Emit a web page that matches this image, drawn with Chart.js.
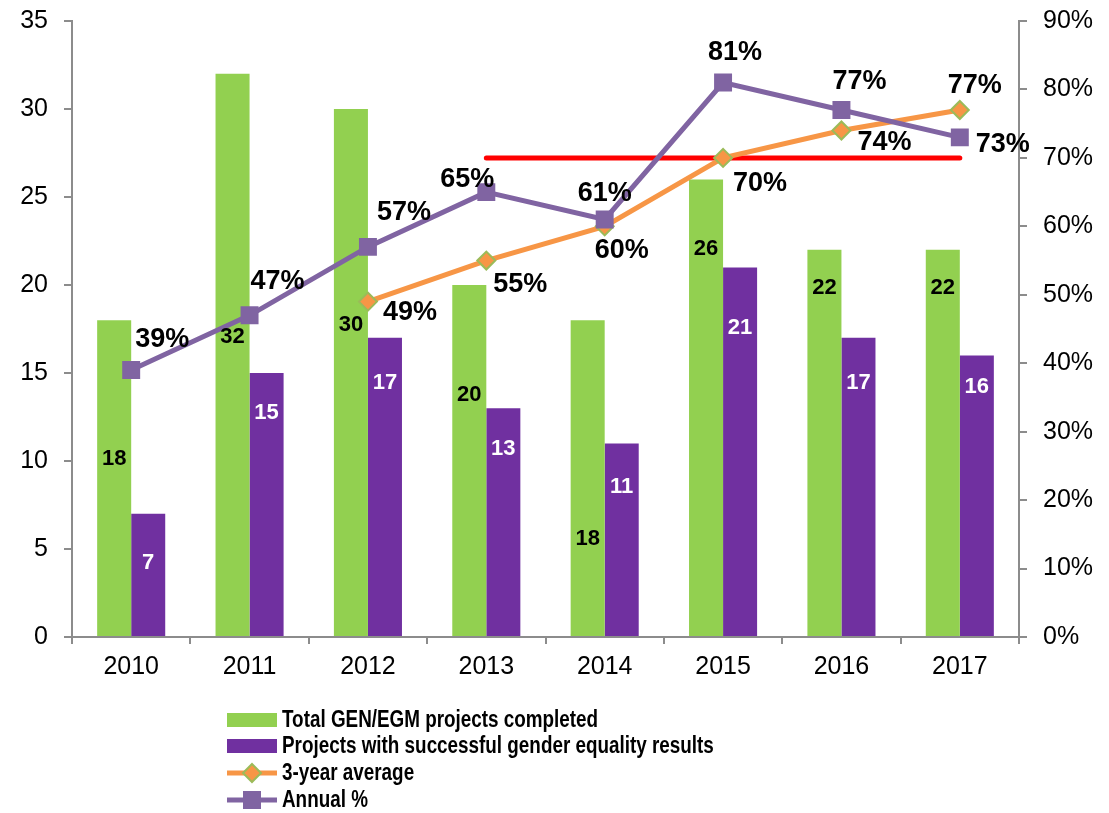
<!DOCTYPE html>
<html>
<head>
<meta charset="utf-8">
<script src="https://cdn.jsdelivr.net/npm/chart.js@4.4.1/dist/chart.umd.min.js"></script>
<style>
  html, body { margin: 0; padding: 0; background: #fff; }
  #wrap { width: 1109px; height: 813px; }
</style>
</head>
<body>
<div id="wrap"><canvas id="chart" width="1109" height="813"></canvas></div>
<script>
// ---- data ----
const years       = ['2010', '2011', '2012', '2013', '2014', '2015', '2016', '2017'];
const totalProj   = [18, 32, 30, 20, 18, 26, 22, 22];
const successProj = [7, 15, 17, 13, 11, 21, 17, 16];
const avg3yr      = [null, null, 49, 55, 60, 70, 74, 77];
const annualPct   = [39, 47, 57, 65, 61, 81, 77, 73];
const target      = [null, null, null, 70, 70, 70, 70, 70];
const leftTicks   = [0, 5, 10, 15, 20, 25, 30, 35];
const rightTicks  = [0, 10, 20, 30, 40, 50, 60, 70, 80, 90];

const GREEN  = '#92D050';
const PURPLE = '#7030A0';
const ORANGE = '#F79646';
const LILAC  = '#8064A2';
const AXIS   = '#8C8C8C';

// label placement tweaks (pixels), tuned by eye
const greenDy  = [139, 263, 216, 110, 219, 70, 38, 38];
const purpleDy = [49, 40, 45, 41, 44, 61, 45, 32];
const annualOff = [[31, -31], [28, -34], [36, -34], [-19, -13], [0, -26], [12, -30], [18, -28], [43, 7]];
const avgOff    = [null, null, [42, 11], [34, 24], [17, 24], [37, 26], [43, 12], [15, -24]];

const labelPlugin = {
  id: 'valueLabels',
  afterDatasetsDraw(chart) {
    const ctx = chart.ctx;
    ctx.save();
    ctx.textAlign = 'center';
    ctx.textBaseline = 'middle';
    ctx.font = 'bold 22px "Liberation Sans", Arial, sans-serif';
    chart.getDatasetMeta(0).data.forEach((bar, i) => {
      ctx.fillStyle = '#000';
      ctx.fillText(String(totalProj[i]), bar.x, bar.y + greenDy[i]);
    });
    chart.getDatasetMeta(1).data.forEach((bar, i) => {
      ctx.fillStyle = '#fff';
      ctx.fillText(String(successProj[i]), bar.x, bar.y + purpleDy[i]);
    });
    ctx.font = 'bold 27px "Liberation Sans", Arial, sans-serif';
    ctx.fillStyle = '#000';
    chart.getDatasetMeta(2).data.forEach((pt, i) => {
      if (avg3yr[i] == null) return;
      const o = avgOff[i];
      ctx.fillText(avg3yr[i] + '%', pt.x + o[0], pt.y + o[1]);
    });
    chart.getDatasetMeta(3).data.forEach((pt, i) => {
      const o = annualOff[i];
      ctx.fillText(annualPct[i] + '%', pt.x + o[0], pt.y + o[1]);
    });
    ctx.restore();
  }
};

const legendPlugin = {
  id: 'stackLegend',
  afterDraw(chart) {
    const ctx = chart.ctx;
    const x0 = 227, x1 = 277, tx = 282;
    const rows = [720, 746, 773, 800];
    ctx.save();
    // bars
    ctx.fillStyle = GREEN;
    ctx.fillRect(x0, rows[0] - 7, x1 - x0, 14);
    ctx.fillStyle = PURPLE;
    ctx.fillRect(x0, rows[1] - 7, x1 - x0, 14);
    // 3-year average
    ctx.strokeStyle = ORANGE; ctx.lineWidth = 5;
    ctx.beginPath(); ctx.moveTo(x0, rows[2]); ctx.lineTo(x1, rows[2]); ctx.stroke();
    const cx = (x0 + x1) / 2;
    ctx.fillStyle = ORANGE; ctx.strokeStyle = '#9BBB59'; ctx.lineWidth = 2;
    ctx.beginPath();
    ctx.moveTo(cx, rows[2] - 9); ctx.lineTo(cx + 9, rows[2]);
    ctx.lineTo(cx, rows[2] + 9); ctx.lineTo(cx - 9, rows[2]); ctx.closePath();
    ctx.fill(); ctx.stroke();
    // annual
    ctx.strokeStyle = LILAC; ctx.lineWidth = 5;
    ctx.beginPath(); ctx.moveTo(x0, rows[3]); ctx.lineTo(x1, rows[3]); ctx.stroke();
    ctx.fillStyle = LILAC;
    ctx.fillRect(cx - 9, rows[3] - 9, 18, 18);
    // text (narrow bold face faked by squeezing horizontally)
    ctx.fillStyle = '#000';
    ctx.textAlign = 'left';
    ctx.textBaseline = 'middle';
    ctx.font = 'bold 23px "Liberation Sans", Arial, sans-serif';
    const names = chart.data.datasets.filter(d => d.inLegend).map(d => d.label);
    const squeeze = 0.82;
    ctx.translate(tx, 0);
    ctx.scale(squeeze, 1);
    names.forEach((n, i) => ctx.fillText(n, 0, rows[i] + 1));
    ctx.restore();
  }
};

const noVertPad = s => { s.paddingTop = 0; s.paddingBottom = 0; };

new Chart(document.getElementById('chart').getContext('2d'), {
  type: 'bar',
  data: {
    labels: years,
    datasets: [
      { label: 'Total GEN/EGM projects completed', inLegend: true, data: totalProj,
        backgroundColor: GREEN, yAxisID: 'y', order: 3,
        categoryPercentage: 0.575, barPercentage: 1.0 },
      { label: 'Projects with successful gender equality results', inLegend: true, data: successProj,
        backgroundColor: PURPLE, yAxisID: 'y', order: 4,
        categoryPercentage: 0.575, barPercentage: 1.0 },
      { type: 'line', label: '3-year average', inLegend: true, data: avg3yr, yAxisID: 'y1', order: 1,
        borderColor: ORANGE, borderWidth: 5, backgroundColor: ORANGE,
        pointStyle: 'rectRot', pointRadius: 9, pointBorderColor: '#9BBB59', pointBorderWidth: 2,
        pointBackgroundColor: ORANGE, tension: 0, spanGaps: false },
      { type: 'line', label: 'Annual %', inLegend: true, data: annualPct, yAxisID: 'y1', order: 0,
        borderColor: LILAC, borderWidth: 5, backgroundColor: LILAC,
        pointStyle: 'rect', pointRadius: 12.7, pointBorderWidth: 0,
        pointBackgroundColor: LILAC, tension: 0 },
      { type: 'line', label: 'Target', inLegend: false, data: target, yAxisID: 'y1', order: 2,
        borderColor: '#FF0000', borderWidth: 5, pointRadius: 0, borderCapStyle: 'round', tension: 0 },
    ],
  },
  options: {
    responsive: false,
    animation: false,
    layout: { padding: { top: 21, left: 0, right: 0, bottom: 0 } },
    plugins: {
      legend: { display: false },
      tooltip: { enabled: false },
    },
    scales: {
      x: {
        offset: true,
        grid: { drawOnChartArea: false, offset: true, tickLength: 7, color: AXIS, lineWidth: 2 },
        border: { color: AXIS, width: 2 },
        ticks: { color: '#000', padding: 8, font: { size: 25, family: '"Liberation Sans", Arial, sans-serif' } },
        afterFit: s => { s.height = 176; },
      },
      y: {
        position: 'left', min: 0, max: 35,
        afterBuildTicks: s => { s.ticks = leftTicks.map(v => ({ value: v })); },
        grid: { drawOnChartArea: false, tickLength: 8, color: AXIS, lineWidth: 2 },
        border: { color: AXIS, width: 2 },
        ticks: { color: '#000', padding: 16, font: { size: 25, family: '"Liberation Sans", Arial, sans-serif' } },
        afterFit: s => { s.width = 72; noVertPad(s); },
      },
      y1: {
        position: 'right', min: 0, max: 90,
        afterBuildTicks: s => { s.ticks = rightTicks.map(v => ({ value: v })); },
        grid: { drawOnChartArea: false, tickLength: 8, color: AXIS, lineWidth: 2 },
        border: { color: AXIS, width: 2 },
        ticks: { color: '#000', padding: 16, callback: v => v + '%',
                 font: { size: 25, family: '"Liberation Sans", Arial, sans-serif' } },
        afterFit: s => { s.width = 90; noVertPad(s); },
      },
    },
  },
  plugins: [labelPlugin, legendPlugin],
});
</script>
</body>
</html>
